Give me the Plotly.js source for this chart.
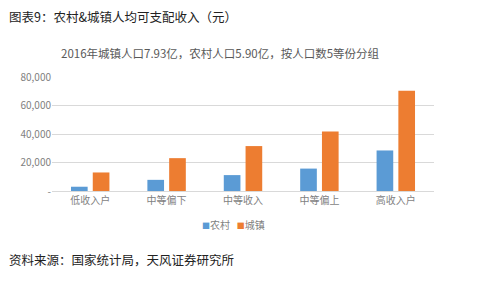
<!DOCTYPE html>
<html><head><meta charset="utf-8">
<script src="https://cdn.plot.ly/plotly-3.0.1.min.js"></script>
<style>html,body{margin:0;padding:0;background:#fff;}#chart{width:484px;height:285px;}</style>
</head><body><div id="chart"></div>
<script>
const categories = ['低收入户','中等偏下','中等收入','中等偏上','高收入户'];
const rural = [2999, 7828, 11159, 15727, 28448];
const urban = [13004, 23055, 31522, 41806, 70348];
const tickVals = [0, 20000, 40000, 60000, 80000];
const tickText = ['-', '20,000', '40,000', '60,000', '80,000'];
const seriesNames = ['农村', '城镇'];
const seriesColors = ['#5b9bd5', '#ed7d31'];
const FONT = '"Noto Sans CJK SC", "Microsoft YaHei", sans-serif';

const data = [
  {type:'bar', name:seriesNames[0], x:categories, y:rural, marker:{color:seriesColors[0]}},
  {type:'bar', name:seriesNames[1], x:categories, y:urban, marker:{color:seriesColors[1]}}
];
const legendText = seriesNames.map((n,i)=>'<span style="color:'+seriesColors[i]+';font-size:8px">■</span>'+n).join('   ');
const layout = {
  width:484, height:285,
  margin:{l:52, r:50, t:77, b:94},
  paper_bgcolor:'#fff', plot_bgcolor:'#fff',
  font:{family:FONT, color:'#7f7f7f', size:10},
  barmode:'group', bargap:0.43, bargroupgap:0.235,
  showlegend:false,
  xaxis:{showgrid:false, zeroline:false, showline:true, linecolor:'#d9d9d9', linewidth:1,
         ticks:'', tickfont:{size:10, color:'#7f7f7f'}, fixedrange:true},
  yaxis:{range:[0,80000], tickvals:tickVals, ticktext:tickText, showgrid:true, gridcolor:'#d9d9d9',
         zeroline:false, showline:false, ticks:'', tickfont:{size:10, color:'#7f7f7f'}, ticklen:0,
         automargin:false},
  annotations:[
    {text:'图表9：农村&城镇人均可支配收入（元）', xref:'paper', yref:'paper', x:-52/382, xshift:7, y:1, yshift:77-16, xanchor:'left', yanchor:'middle', showarrow:false, font:{family:FONT, size:12.5, color:'#222'}},
    {text:'2016年城镇人口7.93亿，农村人口5.90亿，按人口数5等份分组', xref:'paper', yref:'paper', x:(59-52)/382, y:1, yshift:77-53, xanchor:'left', yanchor:'middle', showarrow:false, font:{family:FONT, size:11.5, color:'#595959'}},
    {text:legendText, xref:'paper', yref:'paper', x:(200-52)/382, y:0, yshift:-(224-191), xanchor:'left', yanchor:'middle', showarrow:false, font:{family:FONT, size:10, color:'#7f7f7f'}},
    {text:'资料来源：国家统计局，天风证券研究所', xref:'paper', yref:'paper', x:-52/382, xshift:7, y:0, yshift:-(259-191), xanchor:'left', yanchor:'middle', showarrow:false, font:{family:FONT, size:12.5, color:'#222'}}
  ]
};
Plotly.newPlot('chart', data, layout, {displayModeBar:false, staticPlot:true});
</script></body></html>
